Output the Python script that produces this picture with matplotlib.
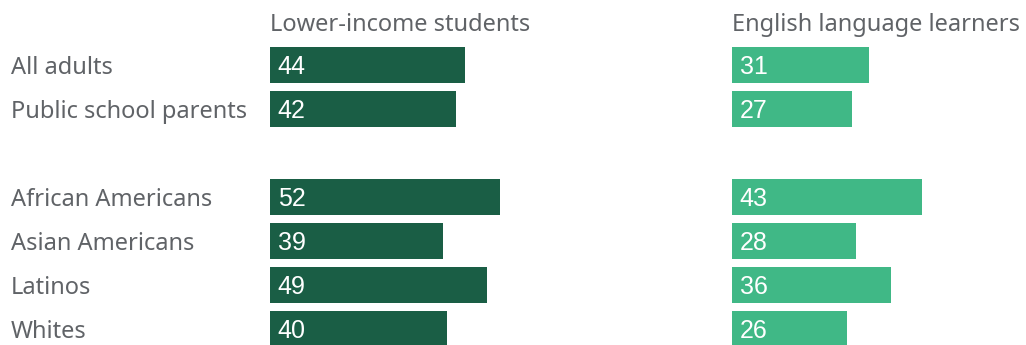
import matplotlib.pyplot as plt

groups = ['All adults', 'Public school parents', 'African Americans',
          'Asian Americans', 'Latinos', 'Whites']
lower_income = [44, 42, 52, 39, 49, 40]
english_learners = [31, 27, 43, 28, 36, 26]
panel_titles = ['Lower-income students', 'English language learners']

plt.rcParams['font.family'] = ['Noto Sans', 'DejaVu Sans']
text_color = '#606367'
dark_green = '#1a5e45'
light_green = '#40b886'

# leave an empty row between the overall groups and the race/ethnicity groups
rows = [0, 1, 3, 4, 5, 6]

fig = plt.figure(figsize=(10.26, 3.45), dpi=100)
W, H = 1026, 345
row_px = 44
top_px = 65 - row_px / 2
ax_h = (H - top_px) / H
n_rows = (H - top_px) / row_px
px_per_unit = 4.43
ax_w_units = 65

axes = []
for left_px, values, color, title in [(270, lower_income, dark_green, panel_titles[0]),
                                      (732, english_learners, light_green, panel_titles[1])]:
    ax = fig.add_axes([left_px / W, 0, ax_w_units * px_per_unit / W, ax_h])
    ax.barh(rows, values, height=36 / row_px, color=color)
    ax.set_xlim(0, ax_w_units)
    ax.set_ylim(-0.5 + n_rows, -0.5)
    ax.axis('off')
    for r, v in zip(rows, values):
        ax.annotate(str(v), (0, r), xytext=(5.5, -1.2), textcoords='offset points',
                    ha='left', va='center', color='white', fontsize=18,
                    family='Liberation Sans')
    fig.text(left_px / W, 1 - 25 / H, title, ha='left', va='center',
             color=text_color, fontsize=17)
    axes.append(ax)

for r, g in zip(rows, groups):
    axes[0].annotate(g, (0, r), xycoords=('figure fraction', 'data'),
                     xytext=(11 * 72 / 100, -2.2), textcoords='offset points',
                     ha='left', va='center', color=text_color, fontsize=17)

fig.savefig('out.png', dpi=100)
